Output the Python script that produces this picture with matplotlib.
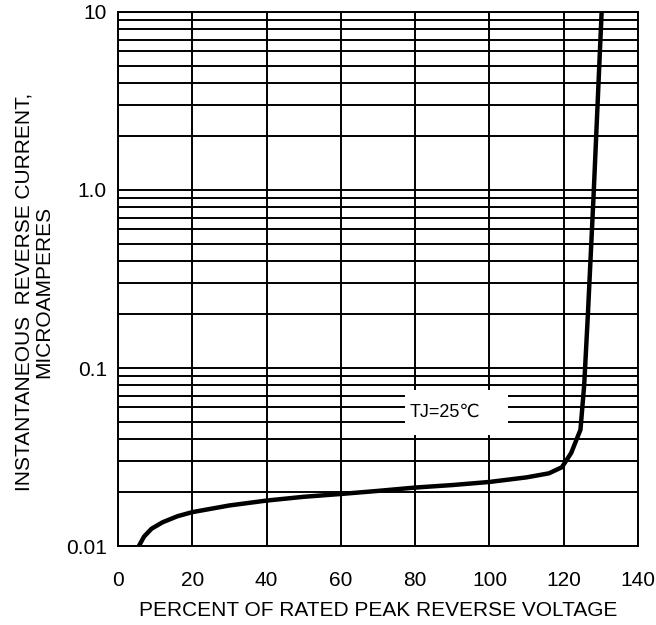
import numpy as np
import matplotlib
matplotlib.use("Agg")
import matplotlib.pyplot as plt
from matplotlib.patches import Rectangle
from matplotlib.ticker import FixedLocator, LogLocator, NullFormatter

plt.rcParams['font.family'] = ['Liberation Sans', 'DejaVu Sans', 'Noto Sans CJK SC']

# curve (percent of rated voltage, microamperes)
pct = [5.6, 7, 9, 12, 16, 20, 30, 40, 50, 60, 70, 80, 90, 100, 110, 116,
       119.5, 122, 124.5, 125.5, 126.5, 128, 130.2]
current = [0.0100, 0.0113, 0.0125, 0.0136, 0.0147, 0.0155, 0.0169, 0.0180,
           0.0189, 0.0196, 0.0204, 0.0213, 0.0220, 0.0229, 0.0243, 0.0256,
           0.0277, 0.0333, 0.045, 0.08, 0.2, 0.9, 10]

x_ticks = [0, 20, 40, 60, 80, 100, 120, 140]
y_ticks = [0.01, 0.1, 1.0, 10]
y_labels = ['0.01', '0.1', '1.0', '10']

fig = plt.figure(figsize=(6.56, 6.25), dpi=100)
ax = fig.add_axes([0.18, 0.1264, 0.7926, 0.8544])

ax.set_yscale('log')
ax.set_xlim(0, 140)
ax.set_ylim(0.01, 10)

ax.xaxis.set_major_locator(FixedLocator(x_ticks))
ax.yaxis.set_major_locator(FixedLocator(y_ticks))
ax.yaxis.set_minor_locator(LogLocator(base=10, subs=np.arange(2, 10)))
ax.yaxis.set_minor_formatter(NullFormatter())
ax.set_yticklabels(y_labels)

ax.grid(True, which='both', axis='y', color='black', lw=1.4)
ax.grid(True, which='major', axis='x', color='black', lw=1.4)
ax.set_axisbelow(True)
for s in ax.spines.values():
    s.set_linewidth(1.4)

ax.tick_params(which='both', length=0, labelsize=15)
ax.tick_params(axis='x', pad=18)
ax.tick_params(axis='y', pad=8)

ax.plot(pct, current, color='black', lw=3.2, solid_capstyle='butt', zorder=3)

# white patch behind the temperature note, cutting the grid lines
ax.add_patch(Rectangle((77.3, 0.0421), 27.7, 0.0751 - 0.0421,
                       facecolor='white', edgecolor='none', zorder=2))
ax.text(78.6, 0.0566, 'TJ=25℃', fontsize=13, ha='left', va='center', zorder=4)

ax.set_xlabel('PERCENT OF RATED PEAK REVERSE VOLTAGE', fontsize=15, labelpad=8)
ax.set_ylabel('INSTANTANEOUS  REVERSE CURRENT,\nMICROAMPERES', fontsize=15,
              linespacing=1.05)
ax.yaxis.set_label_coords(-0.125, 0.476)

fig.savefig('out.png', dpi=100)
